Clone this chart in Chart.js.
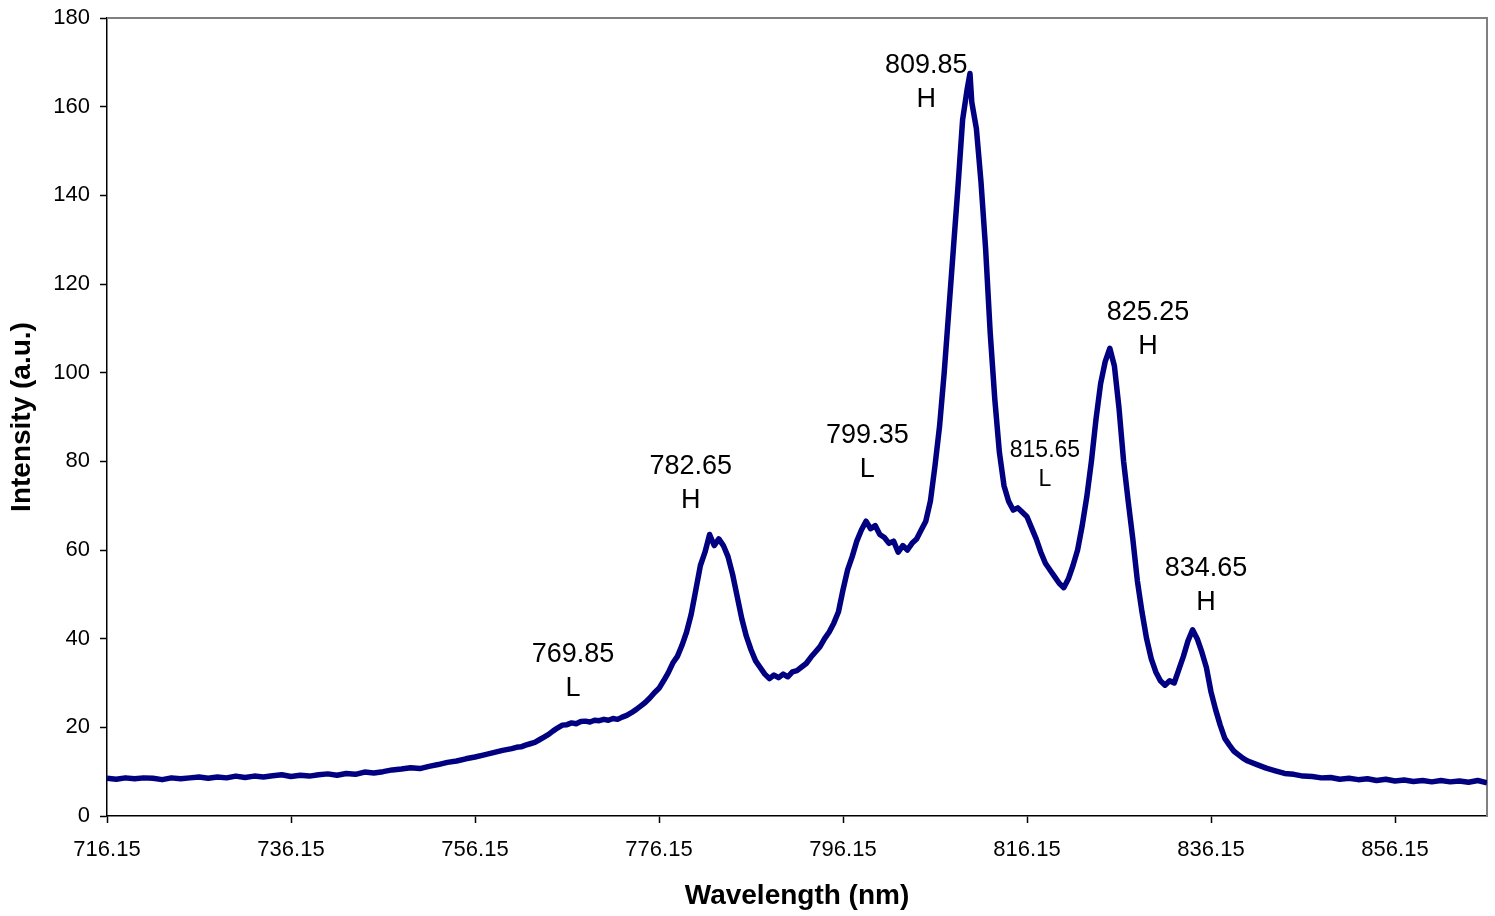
<!DOCTYPE html>
<html>
<head>
<meta charset="utf-8">
<script src="https://cdn.jsdelivr.net/npm/chart.js@4/dist/chart.umd.min.js"></script>
<style>
  html, body { margin: 0; padding: 0; background: #fff; }
  #wrap { width: 1495px; height: 916px; }
</style>
</head>
<body>
<div id="wrap"><canvas id="spectrum"></canvas></div>
<script>
// spectrum, wavelength in nm
var wavelength = [
  716.15, 717.15, 718.15, 719.15, 720.15, 721.15, 722.15, 723.15, 724.15, 725.15,
  726.15, 727.15, 728.15, 729.15, 730.15, 731.15, 732.15, 733.15, 734.15, 735.15,
  736.15, 737.15, 738.15, 739.15, 740.15, 741.15, 742.15, 743.15, 744.15, 745.15,
  746.15, 747.15, 748.15, 749.15, 750.15, 751.15, 752.15, 753.15, 754.15, 755.15,
  756.15, 757.15, 758.15, 759.15,
  760.15, 760.65, 761.15, 761.65, 762.15, 762.65, 763.15, 763.65, 764.15, 764.65,
  765.15, 765.65, 766.15, 766.65, 767.15, 767.65, 768.15, 768.65, 769.15, 769.65,
  770.15, 770.65, 771.15, 771.65, 772.15, 772.65, 773.15, 773.65, 774.15, 774.65,
  775.15, 775.65, 776.15, 776.65, 777.15, 777.65, 778.15, 778.65, 779.15, 779.65,
  780.15, 780.65, 781.15, 781.65, 782.15, 782.65, 783.15, 783.65, 784.15, 784.65,
  785.15, 785.65, 786.15, 786.65, 787.15, 787.65, 788.15, 788.65, 789.15, 789.65,
  790.15, 790.65, 791.15, 791.65, 792.15, 792.65, 793.15, 793.65, 794.15, 794.65,
  795.15, 795.65, 796.15, 796.65, 797.15, 797.65, 798.15, 798.65, 799.15, 799.65,
  800.15, 800.65, 801.15, 801.65, 802.15, 802.65, 803.15, 803.65, 804.15, 804.65,
  805.15, 805.65, 806.15, 806.65, 807.15, 807.65, 808.15, 808.65, 809.15, 809.65,
  809.95, 810.15, 810.65, 811.15, 811.65, 812.15, 812.65, 813.15, 813.65, 814.15,
  814.65, 815.15, 815.65, 816.15, 816.65, 817.15, 817.65, 818.15, 818.65, 819.15,
  819.65, 820.15, 820.65, 821.15, 821.65, 822.15, 822.65, 823.15, 823.65, 824.15,
  824.65, 825.15, 825.65, 826.15, 826.65, 827.15, 827.65, 828.15, 828.65, 829.15,
  829.65, 830.15, 830.65, 831.15, 831.65, 832.15, 832.65, 833.15, 833.65, 834.15,
  834.65, 835.15, 835.65, 836.15, 836.65, 837.15, 837.65, 838.15, 838.65, 839.15,
  839.65, 840.15,
  841.15, 842.15, 843.15, 844.15, 845.15, 846.15, 847.15, 848.15, 849.15, 850.15,
  851.15, 852.15, 853.15, 854.15, 855.15, 856.15, 857.15, 858.15, 859.15, 860.15,
  861.15, 862.15, 863.15, 864.15, 865.15, 866.15
];

// intensity (a.u.)
var intensity = [
  8.5, 8.3, 8.6, 8.4, 8.6, 8.5, 8.2, 8.6, 8.4, 8.6,
  8.8, 8.5, 8.8, 8.6, 9.0, 8.7, 9.0, 8.8, 9.1, 9.3,
  8.9, 9.2, 9.0, 9.3, 9.5, 9.2, 9.6, 9.4, 9.9, 9.7,
  10.0, 10.4, 10.6, 10.9, 10.7, 11.2, 11.6, 12.1, 12.4, 12.9,
  13.3, 13.8, 14.3, 14.8,
  15.2, 15.5, 15.6, 16.0, 16.3, 16.6, 17.2, 17.8, 18.4, 19.2,
  19.9, 20.5, 20.6, 21.0, 20.8, 21.3, 21.4, 21.2, 21.6, 21.5,
  21.8, 21.6, 22.0, 21.8, 22.3, 22.7, 23.3, 24.0, 24.8, 25.6,
  26.6, 27.8, 28.8, 30.5, 32.3, 34.5, 36.0, 38.5, 41.5, 45.5,
  51.0, 56.5, 59.5, 63.5, 61.0, 62.5, 61.0, 58.5, 54.5, 49.5,
  44.5, 40.5, 37.5, 35.0, 33.5, 32.0, 31.0, 31.8, 31.2, 32.0,
  31.4, 32.5, 32.8, 33.6, 34.4, 35.8, 37.0, 38.2, 40.0, 41.5,
  43.5, 46.0, 51.0, 55.5, 58.5, 62.0, 64.5, 66.5, 64.8, 65.5,
  63.5, 62.8, 61.5, 62.0, 59.5, 61.0, 60.0, 61.5, 62.5, 64.5,
  66.5, 71.0, 79.0, 88.0, 100.0, 114.0, 128.0, 142.0, 157.0, 164.0,
  167.5, 161.0, 155.0, 143.0, 128.0, 109.0, 94.0, 82.0, 74.5, 71.0,
  69.0, 69.5, 68.5, 67.5, 65.0, 62.5, 59.5, 57.0, 55.5, 54.0,
  52.5, 51.5, 53.5, 56.5, 60.0, 65.5, 72.0, 80.0, 89.5, 97.5,
  102.5, 105.5, 101.5, 92.0, 80.0, 71.0, 62.5, 53.0, 46.0, 40.0,
  35.5, 32.5, 30.5, 29.5, 30.5, 30.0, 33.0, 36.0, 39.5, 42.0,
  40.0, 37.0, 33.5, 28.0, 24.0, 20.5, 17.5, 16.0, 14.6, 13.8,
  13.0, 12.4,
  11.6, 10.8, 10.2, 9.6, 9.4, 9.0, 8.9, 8.6, 8.7, 8.3,
  8.5, 8.2, 8.4, 8.0, 8.3, 7.9, 8.1, 7.8, 8.0, 7.7,
  8.0, 7.7, 7.9, 7.6, 8.0, 7.5
];

var xTicks = [716.15, 736.15, 756.15, 776.15, 796.15, 816.15, 836.15, 856.15];

// peak labels: text, second line, anchor (nm, a.u.)
var peakNames = ['769.85', '782.65', '799.35', '809.85', '815.65', '825.25', '834.65'];
var peakTypes = ['L', 'H', 'L', 'H', 'L', 'H', 'H'];
var peakLabelX = [766.8, 779.6, 798.8, 805.2, 818.1, 829.3, 835.6];
var peakLabelY = [36.4, 78.9, 85.9, 169.3, 82.3, 113.5, 55.9];
var peakSmall = [false, false, false, false, true, false, false];

var points = wavelength.map(function (w, i) { return {x: w, y: intensity[i]}; });

var frame = {
    id: 'frame',
    beforeDatasetsDraw: function (chart) {
        var a = chart.chartArea, ctx = chart.ctx;
        ctx.save();
        ctx.strokeStyle = '#808080';
        ctx.lineWidth = 2;
        ctx.beginPath();
        ctx.moveTo(a.left, a.top);
        ctx.lineTo(a.right, a.top);
        ctx.lineTo(a.right, a.bottom);
        ctx.stroke();
        ctx.restore();
    }
};

var peakLabels = {
    id: 'peakLabels',
    afterDatasetsDraw: function (chart) {
        var ctx = chart.ctx, xs = chart.scales.x, ys = chart.scales.y;
        ctx.save();
        ctx.fillStyle = '#000';
        ctx.textAlign = 'center';
        ctx.textBaseline = 'middle';
        peakNames.forEach(function (name, i) {
            var px = xs.getPixelForValue(peakLabelX[i]);
            var py = ys.getPixelForValue(peakLabelY[i]);
            var size = peakSmall[i] ? 23 : 27;
            var gap = peakSmall[i] ? 29 : 34;
            ctx.font = size + 'px "Liberation Sans", Arial, sans-serif';
            ctx.fillText(name, px, py);
            ctx.fillText(peakTypes[i], px, py + gap);
        });
        ctx.restore();
    }
};

var tickFont = {family: '"Liberation Sans", Arial, sans-serif', size: 22};
var titleFont = {family: '"Liberation Sans", Arial, sans-serif', size: 28, weight: 'bold'};

new Chart(document.getElementById('spectrum'), {
    type: 'line',
    data: {
        datasets: [{
            data: points,
            borderColor: '#000080',
            borderWidth: 5.5,
            borderJoinStyle: 'round',
            pointRadius: 0,
            tension: 0,
            fill: false
        }]
    },
    options: {
        responsive: true,
        maintainAspectRatio: false,
        animation: false,
        layout: {padding: {top: 18, right: 8, left: 0, bottom: 0}},
        plugins: {legend: {display: false}, tooltip: {enabled: false}},
        scales: {
            x: {
                type: 'linear',
                min: 716.15,
                max: 866.15,
                afterBuildTicks: function (s) { s.ticks = xTicks.map(function (v) { return {value: v}; }); },
                afterFit: function (s) { s.height = 100; },
                ticks: {
                    font: tickFont,
                    color: '#000',
                    padding: 14,
                    maxRotation: 0,
                    autoSkip: false,
                    callback: function (v) { return Number(v).toFixed(2); }
                },
                grid: {drawOnChartArea: false, drawTicks: true, tickLength: 7, tickColor: '#000', tickWidth: 1.5},
                border: {color: '#000', width: 1.5},
                title: {display: true, text: 'Wavelength (nm)', font: titleFont, color: '#000', padding: {top: 0, bottom: 3}}
            },
            y: {
                min: 0,
                max: 180,
                afterFit: function (s) { s.width = 107; s.paddingTop = 0; s.paddingBottom = 0; },
                ticks: {stepSize: 20, font: tickFont, color: '#000', padding: 10},
                grid: {drawOnChartArea: false, drawTicks: true, tickLength: 7, tickColor: '#000', tickWidth: 1.5},
                border: {color: '#000', width: 1.5},
                title: {display: true, text: 'Intensity (a.u.)', font: titleFont, color: '#000', padding: {top: 5, bottom: 0}}
            }
        }
    },
    plugins: [frame, peakLabels]
});
</script>
</body>
</html>
